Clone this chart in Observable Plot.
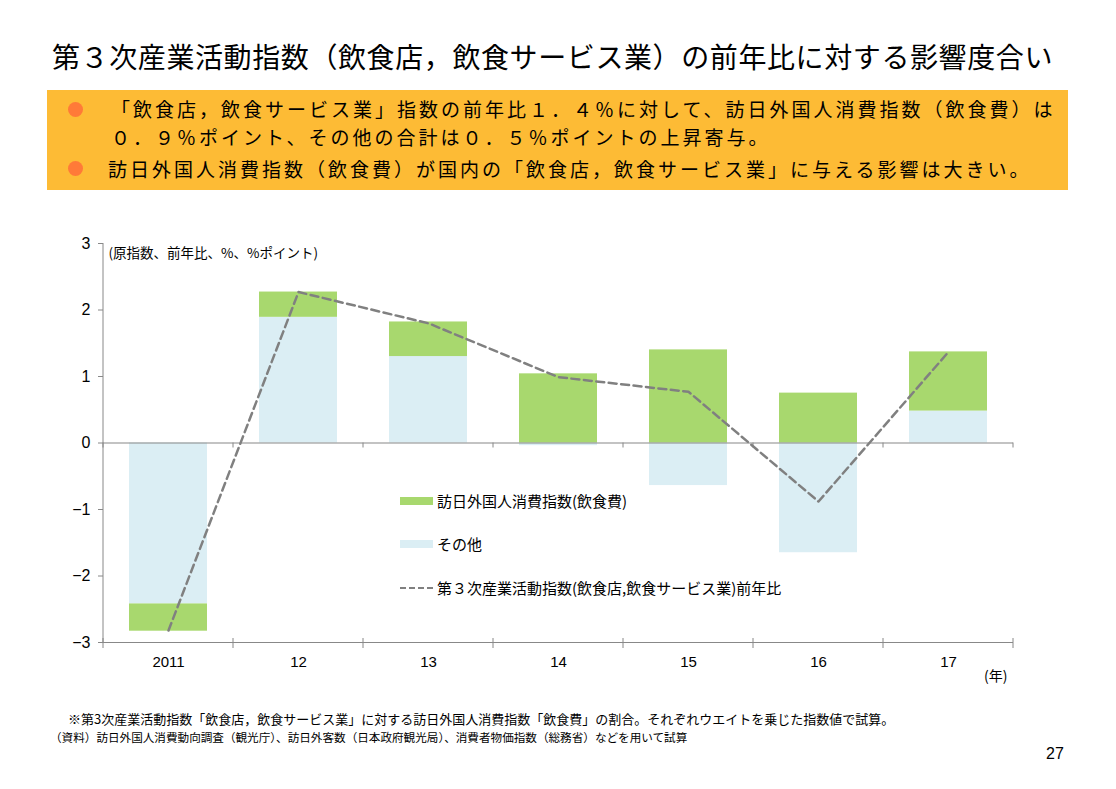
<!DOCTYPE html>
<html><head><meta charset="utf-8">
<script src="https://cdn.jsdelivr.net/npm/d3@7"></script>
<script src="https://cdn.jsdelivr.net/npm/@observablehq/plot@0.6"></script>
<style>
body{margin:0;background:#fff;font-family:"Noto Sans CJK JP","Noto Sans",sans-serif;color:#000;}
#page{position:relative;width:1116px;height:789px;overflow:hidden;}
.abs{position:absolute;white-space:nowrap;line-height:1;}
.bul{position:absolute;width:15px;height:15px;border-radius:50%;background:#FF7A38;}
#chart{position:absolute;left:0;top:225px;}
.lg{position:absolute;font-size:15px;line-height:1;white-space:nowrap;}
.bx{font-size:19px;letter-spacing:3px;}
</style></head><body><div id="page">
<div class="abs" id="title" style="left:52px;top:42px;font-size:28px;letter-spacing:0.6px;">第３次産業活動指数（飲食店，飲食サービス業）の前年比に対する影響度合い</div>
<div class="abs" style="left:47px;top:90px;width:1021px;height:100px;background:#FDBB35;"></div>
<div class="bul" style="left:68px;top:102px;"></div>
<div class="bul" style="left:68px;top:161px;"></div>
<div class="abs bx" style="left:111px;top:95px;line-height:27.5px;">「飲食店，飲食サービス業」指数の前年比１．４％に対して、訪日外国人消費指数（飲食費）は<br>０．９％ポイント、その他の合計は０．５％ポイントの上昇寄与。</div>
<div class="abs bx" style="left:108px;top:159px;">訪日外国人消費指数（飲食費）が国内の「飲食店，飲食サービス業」に与える影響は大きい。</div>
<div id="chart"></div>
<div class="abs" style="left:984px;top:668px;font-size:14px;">(年)</div>
<div class="abs" style="left:68px;top:712px;font-size:13px;">※第3次産業活動指数「飲食店，飲食サービス業」に対する訪日外国人消費指数「飲食費」の割合。それぞれウエイトを乗じた指数値で試算。</div>
<div class="abs" style="left:50px;top:732px;font-size:11.6px;">（資料）訪日外国人消費動向調査（観光庁）、訪日外客数（日本政府観光局）、消費者物価指数（総務省）などを用いて試算</div>
<div class="abs" style="left:1046px;top:746px;font-size:16px;font-family:'Liberation Sans Narrow','Liberation Sans',sans-serif;">27</div>
<div class="lg" style="left:400px;top:491px;"><span style="display:inline-block;width:33px;height:8px;background:#A8D86E;vertical-align:middle;margin-right:4px;"></span><span style="vertical-align:middle;">訪日外国人消費指数(飲食費)</span></div>
<div class="lg" style="left:400px;top:534px;"><span style="display:inline-block;width:33px;height:8px;background:#DBEEF4;vertical-align:middle;margin-right:4px;"></span><span style="vertical-align:middle;">その他</span></div>
<div class="lg" style="left:400px;top:578px;"><span style="display:inline-block;width:33px;height:0;border-top:2.5px dashed #808080;vertical-align:middle;margin-right:4px;"></span><span style="vertical-align:middle;">第３次産業活動指数(飲食店,飲食サービス業)前年比</span></div>
</div>
<script>
const years = ["2011","2012","2013","2014","2015","2016","2017"];
const yearLabels = ["2011","12","13","14","15","16","17"];
const seriesNames = ["その他", "訪日外国人消費指数(飲食費)"];
const others   = [-2.42, 1.89, 1.30, -0.04, -0.64, -1.65, 0.48];
const visitors = [-0.41, 0.38, 0.52, 1.04, 1.40, 0.75, 0.89];
const totalYoY = [-2.82, 2.27, 1.80, 0.99, 0.77, -0.88, 1.37];
const yTicks = [-3, -2, -1, 0, 1, 2, 3];
const unitNote = "(原指数、前年比、%、%ポイント)";

const barData = [];
years.forEach((yr, i) => {
  barData.push({year: yr, series: seriesNames[0], value: others[i]});
  barData.push({year: yr, series: seriesNames[1], value: visitors[i]});
});
const lineData = years.map((yr, i) => ({year: yr, value: totalYoY[i]}));

function bandEdges(index, scales, values, dims) {
  const x = scales.x, y = scales.y;
  const bw = typeof x.bandwidth === "function" ? x.bandwidth() : x.bandwidth;
  const step = typeof x.step === "function" ? x.step() : x.step;
  const gap = step - bw;
  const g = d3.create("svg:g").attr("stroke", "#888").attr("stroke-width", 1).attr("fill", "none");
  const edges = years.map(d => x(d) - gap / 2);
  edges.push(x(years[years.length - 1]) + bw + gap / 2);
  const y0 = y(0), yb = y(-3);
  g.append("line").attr("x1", dims.marginLeft).attr("x2", dims.marginLeft)
    .attr("y1", y(3)).attr("y2", yb);
  for (const e of edges) {
    g.append("line").attr("x1", e).attr("x2", e).attr("y1", y0).attr("y2", y0 + 5);
    g.append("line").attr("x1", e).attr("x2", e).attr("y1", yb - 4).attr("y2", yb + 6);
  }
  return g.node();
}

const chart = Plot.plot({
  width: 1116,
  height: 470,
  marginLeft: 103,
  marginRight: 103,
  marginTop: 18,
  marginBottom: 53,
  style: {fontFamily: "'Noto Sans CJK JP', sans-serif", fontSize: "14px", color: "#000", background: "transparent"},
  x: {domain: years, paddingInner: 0.4, paddingOuter: 0.2, label: null},
  y: {domain: [-3, 3], label: null},
  color: {domain: seriesNames, range: ["#DBEEF4", "#A8D86E"]},
  marks: [
    Plot.barY(barData, {x: "year", y: "value", fill: "series"}),
    Plot.ruleY([0], {stroke: "#888", strokeWidth: 1.2}),
    Plot.ruleY([-3], {stroke: "#888", strokeWidth: 1.2}),
    bandEdges,
    Plot.line(lineData, {x: "year", y: "value", stroke: "#808080", strokeWidth: 2.5, strokeDasharray: "8,4.5"}),
    Plot.axisY({ticks: yTicks, tickSize: 5, tickPadding: 8, stroke: "#888", fontSize: 16, fontFamily: "'Liberation Sans', sans-serif", tickFormat: d => d < 0 ? "−" + Math.abs(d) : String(d)}),
    Plot.axisX({tickSize: 0, tickPadding: 14, fontSize: 15, fontFamily: "'Liberation Sans Narrow', 'Liberation Sans', sans-serif", tickFormat: d => yearLabels[years.indexOf(d)]}),
    Plot.text([unitNote], {frameAnchor: "top-left", text: d => d, textAnchor: "start", lineAnchor: "top", dx: 5, dy: 5, fontSize: 13.5})
  ]
});
document.getElementById("chart").appendChild(chart);
</script>
</body></html>
